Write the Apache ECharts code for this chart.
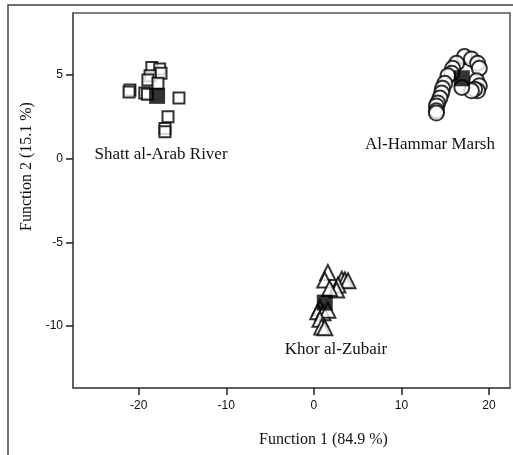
<!DOCTYPE html>
<html><head><meta charset="utf-8">
<script src="https://cdn.jsdelivr.net/npm/echarts@6/dist/echarts.min.js"></script>
<style>html,body{margin:0;padding:0;background:#fff}#c{width:513px;height:455px}</style>
</head><body><div id="c"></div>
<script>
// Group names
const groups = ["Shatt al-Arab River", "Al-Hammar Marsh", "Khor al-Zubair"];
// Function 1 / Function 2 scores per sample
const shattPoints = [
  [-18.5, 5.45], [-17.6, 5.35], [-17.45, 5.1], [-18.7, 4.95], [-18.95, 4.7],
  [-17.8, 4.5], [-21.0, 4.1], [-21.1, 3.98], [-19.3, 3.92], [-19.0, 3.85],
  [-15.4, 3.62], [-16.65, 2.5], [-17.0, 1.8], [-17.0, 1.6]
];
const hammarPoints = [
  [17.2, 6.1], [18.0, 5.95], [18.7, 5.7], [16.3, 5.7], [18.9, 5.4], [15.85, 5.4],
  [15.75, 5.1], [15.3, 4.95], [18.6, 4.65], [18.9, 4.35], [18.7, 4.05], [18.35, 4.15],
  [18.0, 4.05], [16.9, 4.25], [14.95, 4.5], [14.7, 4.2], [14.6, 3.92], [14.4, 3.62],
  [14.15, 3.33], [14.0, 3.15], [14.0, 2.86], [14.0, 2.72]
];
const khorPoints = [
  [1.6, -6.8], [1.25, -7.25], [3.2, -7.2], [3.55, -7.25], [3.9, -7.3], [2.75, -7.55],
  [2.6, -7.85], [1.8, -7.75], [0.7, -8.9], [0.45, -9.15], [1.05, -9.2], [1.6, -9.05],
  [0.7, -9.6], [0.9, -10.05], [1.25, -10.1]
];
// Group centroids
const centroids = [[-17.9, 3.75], [16.9, 4.8], [1.25, -8.6]];
// Axis ticks
const xTicks = [-20, -10, 0, 10, 20];
const yTicks = [-10, -5, 0, 5];
const xTitle = "Function 1 (84.9 %)";
const yTitle = "Function 2 (15.1 %)";

const chart = echarts.init(document.getElementById('c'), null, {renderer: 'canvas'});
const serif = '"Liberation Serif", "Times New Roman", serif';
const sans = '"Liberation Sans", Arial, sans-serif';
const hollow = {color: '#fff', borderColor: '#000', borderWidth: 2};
chart.setOption({
  animation: false,
  backgroundColor: '#fff',
  grid: {left: 73, top: 13, right: 3, bottom: 67, show: true, borderColor: '#555', borderWidth: 1.5, backgroundColor: 'transparent'},
  xAxis: {
    type: 'value', min: -27.5, max: 22.4,
    name: xTitle, nameLocation: 'middle', nameGap: 44,
    nameTextStyle: {fontFamily: serif, fontSize: 16, color: '#111', padding: [0, 0, 0, 64]},
    axisLine: {show: true, onZero: false, lineStyle: {color: '#555', width: 1.5}},
    axisTick: {show: true, length: 7, customValues: xTicks, lineStyle: {color: '#222', width: 1.5}},
    axisLabel: {customValues: xTicks, margin: 12, fontFamily: sans, fontSize: 12, color: '#111'},
    splitLine: {show: false}
  },
  yAxis: {
    type: 'value', min: -13.7, max: 8.7,
    name: yTitle, nameLocation: 'middle', nameGap: 36,
    nameTextStyle: {fontFamily: serif, fontSize: 16, color: '#111', padding: [0, 0, 0, 68]},
    axisLine: {show: true, onZero: false, lineStyle: {color: '#555', width: 1.5}},
    axisTick: {show: true, length: 7, customValues: yTicks, lineStyle: {color: '#222', width: 1.5}},
    axisLabel: {customValues: yTicks, margin: 10, fontFamily: sans, fontSize: 12, color: '#111'},
    splitLine: {show: false}
  },
  graphic: [
    {type: 'polyline', shape: {points: [[8, 455], [8, 5], [513, 5]]}, style: {stroke: '#444', lineWidth: 1.5, fill: null}},
    {type: 'text', x: 161, y: 155, style: {text: groups[0], font: '17px ' + serif, fill: '#111', textAlign: 'center', textVerticalAlign: 'middle'}, z: 100},
    {type: 'text', x: 430, y: 145, style: {text: groups[1], font: '17px ' + serif, fill: '#111', textAlign: 'center', textVerticalAlign: 'middle'}, z: 100},
    {type: 'text', x: 336, y: 350, style: {text: groups[2], font: '17px ' + serif, fill: '#111', textAlign: 'center', textVerticalAlign: 'middle'}, z: 100}
  ],
  series: [
    {name: groups[0], type: 'scatter', symbol: 'rect', symbolSize: 11, data: shattPoints, itemStyle: hollow},
    {name: groups[1], type: 'scatter', symbol: 'circle', symbolSize: 15, data: hammarPoints, itemStyle: hollow},
    {name: groups[2], type: 'scatter', symbol: 'triangle', symbolSize: 15, data: khorPoints, itemStyle: hollow},
    {name: 'Group centroid', type: 'scatter', symbol: 'rect', symbolSize: 16, data: centroids, itemStyle: {color: '#000'}, z: 5}
  ]
});
</script></body></html>
